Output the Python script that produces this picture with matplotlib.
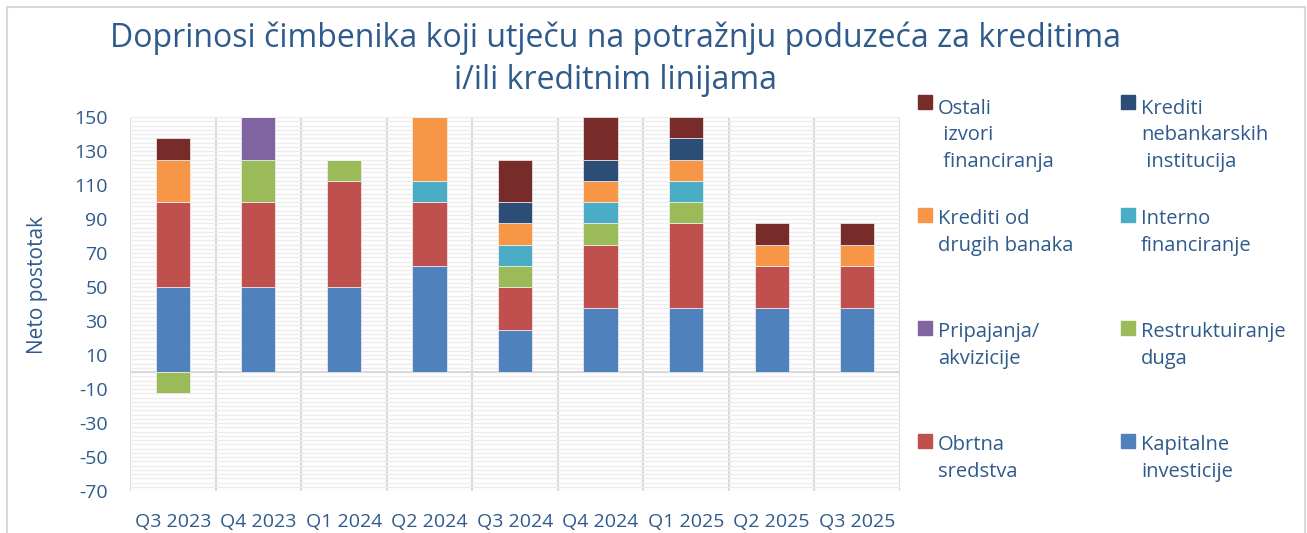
import numpy as np
import matplotlib.pyplot as plt
from matplotlib.patches import Rectangle
from matplotlib.ticker import MultipleLocator

plt.rcParams['font.family'] = ['Open Sans', 'DejaVu Sans']
plt.rcParams['axes.unicode_minus'] = False

quarters = ['Q3 2023', 'Q4 2023', 'Q1 2024', 'Q2 2024', 'Q3 2024',
            'Q4 2024', 'Q1 2025', 'Q2 2025', 'Q3 2025']

# series bottom -> top of the stack
kapitalne = [50, 50, 50, 62.5, 25, 37.5, 37.5, 37.5, 37.5]
obrtna = [50, 50, 62.5, 37.5, 25, 37.5, 50, 25, 25]
restrukturiranje = [-12.5, 25, 12.5, 0, 12.5, 12.5, 12.5, 0, 0]
pripajanja = [0, 25, 0, 0, 0, 0, 0, 0, 0]
interno = [0, 0, 0, 12.5, 12.5, 12.5, 12.5, 0, 0]
krediti_banke = [25, 0, 0, 37.5, 12.5, 12.5, 12.5, 12.5, 12.5]
krediti_nebank = [0, 0, 0, 0, 12.5, 12.5, 12.5, 0, 0]
ostali = [12.5, 0, 0, 0, 25, 25, 12.5, 12.5, 12.5]

series = [kapitalne, obrtna, restrukturiranje, pripajanja, interno,
          krediti_banke, krediti_nebank, ostali]
labels = ['Kapitalne\ninvesticije', 'Obrtna\nsredstva', 'Restruktuiranje\nduga',
          'Pripajanja/\nakvizicije', 'Interno\nfinanciranje', 'Krediti od\ndrugih banaka',
          'Krediti\nnebankarskih\n institucija', 'Ostali\n izvori\n financiranja']
colors = ['#4F81BD', '#C0504D', '#9BBB59', '#8064A2', '#4BACC6', '#F79646',
          '#2C4D75', '#772C2A']

txt = '#2F5A8C'
W, H = 1307, 533
fig = plt.figure(figsize=(W / 100, H / 100), dpi=100)

# chart border
fig.patches.append(Rectangle((7 / W, -0.1), 1298 / W, 1.1 - 7 / H, transform=fig.transFigure,
                             fill=False, edgecolor='#D9D9D9', lw=1.5))

ax = fig.add_axes([130 / W, 1 - 491 / H, 770 / W, 374 / H])
x = np.arange(len(quarters))

pos = np.zeros(len(quarters))
neg = np.zeros(len(quarters))
for vals, c in zip(series, colors):
    v = np.array(vals, dtype=float)
    bottom = np.where(v >= 0, pos, neg)
    ax.bar(x, v, 0.4, bottom=bottom, color=c, edgecolor='#F2F2F2', lw=0.5, zorder=3)
    pos += np.where(v > 0, v, 0)
    neg += np.where(v < 0, v, 0)

ax.set_xlim(-0.5, len(quarters) - 0.5)
ax.set_ylim(-70, 150)
ax.set_yticks(np.arange(-70, 151, 20))
ax.yaxis.set_minor_locator(MultipleLocator(2.5))
ax.set_xticks(x)
ax.set_xticklabels(quarters)
ax.grid(axis='y', which='both', color='#EDEDED', lw=1, zorder=0)
for b in np.arange(-0.5, len(quarters), 1):
    ax.axvline(b, color='#D9D9D9', lw=1.5, zorder=1)
ax.axhline(0, color='#D9D9D9', lw=1.5, zorder=2)
for s in ax.spines.values():
    s.set_visible(False)
ax.tick_params(axis='both', which='both', length=0, colors=txt, labelsize=14, pad=16)

fig.text(38 / W, 1 - 285 / H, 'Neto postotak', rotation=90, ha='center', va='center',
         color=txt, fontsize=15)

fig.text(615 / W, 1 - 47 / H, 'Doprinosi čimbenika koji utječu na potražnju poduzeća za kreditima',
         ha='center', va='baseline', color=txt, fontsize=23)
fig.text(615 / W, 1 - 89 / H, 'i/ili kreditnim linijama',
         ha='center', va='baseline', color=txt, fontsize=23)

# legend, reversed order, two columns
for i, k in enumerate(range(len(series) - 1, -1, -1)):
    col, row = i % 2, i // 2
    sx = 918 if col == 0 else 1121
    base = 109 + row * 113
    fig.patches.append(Rectangle((sx / W, 1 - base / H), 14 / W, 14 / H,
                                 transform=fig.transFigure, color=colors[k]))
    nlines = labels[k].count('\n')
    fig.text((sx + 20) / W, 1 - (base + nlines * 29) / H, labels[k], ha='left', va='baseline',
             color=txt, fontsize=14.5, linespacing=1.45)

fig.savefig('out.png', dpi=100)
